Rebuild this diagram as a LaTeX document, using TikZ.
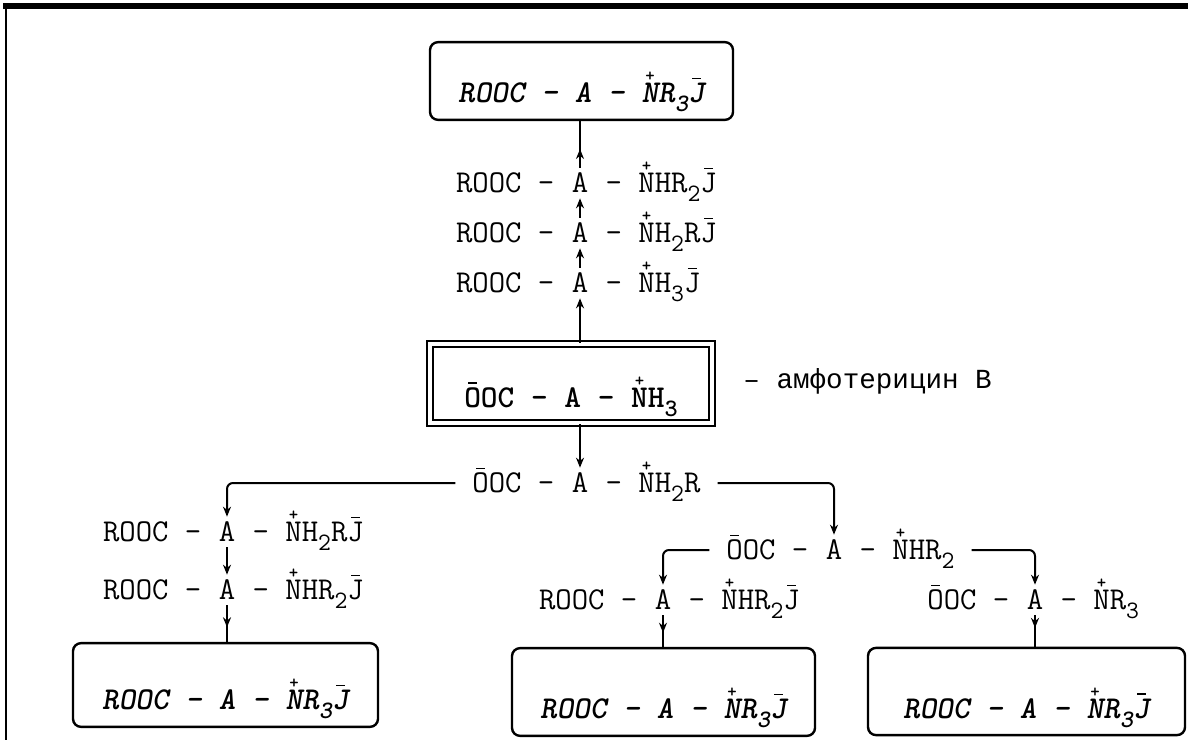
\documentclass[tikz,border=0pt]{standalone}
\usepackage{fontspec}
\newfontfamily\cyrmono{Liberation Mono}
\usetikzlibrary{arrows.meta, positioning, decorations.markings}
\newcommand\chem{\ttfamily\fontsize{15.9pt}{19pt}\selectfont}
\newcommand\cation[1]{\ooalign{#1\cr\hidewidth\raisebox{0.66em}[0pt][0pt]{\fontsize{9pt}{9pt}\selectfont\bfseries\upshape +}\hidewidth\cr}}
\newcommand\anion[1]{\ooalign{#1\cr\hidewidth\raisebox{0.74em}[0pt][0pt]{\rule{0.28em}{0.9pt}}\hidewidth\cr}}
\newcommand\idx[1]{\raisebox{-0.28em}{\fontsize{12.5pt}{12.5pt}\selectfont #1}}
\tikzset{atom/.style={font=\chem, inner xsep=0pt, inner ysep=2.5pt},
         side/.style={font=\chem, inner xsep=8.35pt, inner ysep=2.5pt},
         box/.style={draw, line width=1.2pt, rounded corners=4pt,
                     font=\chem\bfseries\itshape, inner ysep=0pt, text depth=8.5pt},
         centre/.style={draw, double, line width=0.9pt, double distance=2pt,
                        font=\chem\bfseries, inner ysep=0pt, text depth=8pt},
         link/.style={-{Stealth[length=5pt,width=4pt]}, line width=1pt, rounded corners=3pt},
         linemid/.style={line width=1pt, postaction={decorate},
                         decoration={markings, mark=at position #1 with {\arrow{Stealth[length=5pt,width=4pt]}}}}}
\begin{document}
\begin{tikzpicture}[x=0.5pt, y=-0.5pt]
\useasboundingbox (0,0) rectangle (1188,740);
\draw[line width=2.6pt] (3,6) -- (1188,6);
\draw[line width=0.9pt] (6,6) -- (6,740);

\node[box, text height=30.35pt, minimum width=151.5pt] (top) at (581.5,81) {ROOC - A - \cation{N}R\idx{3}\anion{J}};

\node[atom] (a1) at (580,183) {A};
\node[side, base left=0pt of a1] (a1l) {ROOC -};
\node[side, base right=0pt of a1] (a1r) {- \cation{N}HR\idx{2}\anion{J}};
\node[atom] (a2) at (580,233) {A};
\node[side, base left=0pt of a2] (a2l) {ROOC -};
\node[side, base right=0pt of a2] (a2r) {- \cation{N}H\idx{2}R\anion{J}};
\node[atom] (a3) at (580,283) {A};
\node[side, base left=0pt of a3] (a3l) {ROOC -};
\node[side, base right=0pt of a3] (a3r) {- \cation{N}H\idx{3}\anion{J}};

\node[centre, minimum width=141.2pt, text height=31.7pt] (cbox) at (571,383.5) {\anion{O}OC - A - \cation{N}H\idx{3}\hspace{11pt}};
\node[font=\cyrmono\fontsize{13.8pt}{16pt}\selectfont, anchor=base west, inner sep=0pt] (amph) at (743,388) {– амфотерицин В};

\node[atom] (a6) at (580,483) {A};
\node[side, base left=0pt of a6] (a6l) {\anion{O}OC -};
\node[side, base right=0pt of a6] (a6r) {- \cation{N}H\idx{2}R};

\node[atom] (a4) at (227,532) {A};
\node[side, base left=0pt of a4] (a4l) {ROOC -};
\node[side, base right=0pt of a4] (a4r) {- \cation{N}H\idx{2}R\anion{J}};
\node[atom] (a5) at (227,590) {A};
\node[side, base left=0pt of a5] (a5l) {ROOC -};
\node[side, base right=0pt of a5] (a5r) {- \cation{N}HR\idx{2}\anion{J}};
\node[box, text height=33.35pt, minimum width=152.5pt] (boxl) at (225.5,685) {ROOC - A - \cation{N}R\idx{3}\anion{J}};

\node[atom] (a7) at (834,550) {A};
\node[side, base left=0pt of a7] (a7l) {\anion{O}OC -};
\node[side, base right=0pt of a7] (a7r) {- \cation{N}HR\idx{2}};
\node[atom] (a8) at (663,600) {A};
\node[side, base left=0pt of a8] (a8l) {ROOC -};
\node[side, base right=0pt of a8] (a8r) {- \cation{N}HR\idx{2}\anion{J}};
\node[box, text height=35.35pt, minimum width=151.5pt] (boxm) at (663.5,692) {ROOC - A - \cation{N}R\idx{3}\anion{J}};
\node[atom] (a9) at (1035,600) {A};
\node[side, base left=0pt of a9] (a9l) {\anion{O}OC -};
\node[side, base right=0pt of a9] (a9r) {- \cation{N}R\idx{3}};
\node[box, text height=35.1pt, minimum width=158.5pt] (boxr) at (1026.5,691.5) {ROOC - A - \cation{N}R\idx{3}\anion{J}};

\draw[linemid=0.4] (a1) -- (top.south -| a1);
\draw[link] (a2) -- (a1);
\draw[link] (a3) -- (a2);
\draw[link] (cbox.north -| a3) -- (a3);
\draw[link] (cbox.south -| a6) -- (a6);
\draw[link] (a6l.west |- a6) -| (a4);
\draw[link] (a4) -- (a5);
\draw[linemid=0.6] (a5) -- (boxl.north -| a5);
\draw[link] (a6r.east |- a6) -| (a7);
\draw[link] (a7l.west |- a7) -| (a8);
\draw[linemid=0.55] (a8) -- (boxm.north -| a8);
\draw[link] (a7r.east |- a7) -| (a9);
\draw[linemid=0.4] (a9) -- (boxr.north -| a9);
\end{tikzpicture}
\end{document}
